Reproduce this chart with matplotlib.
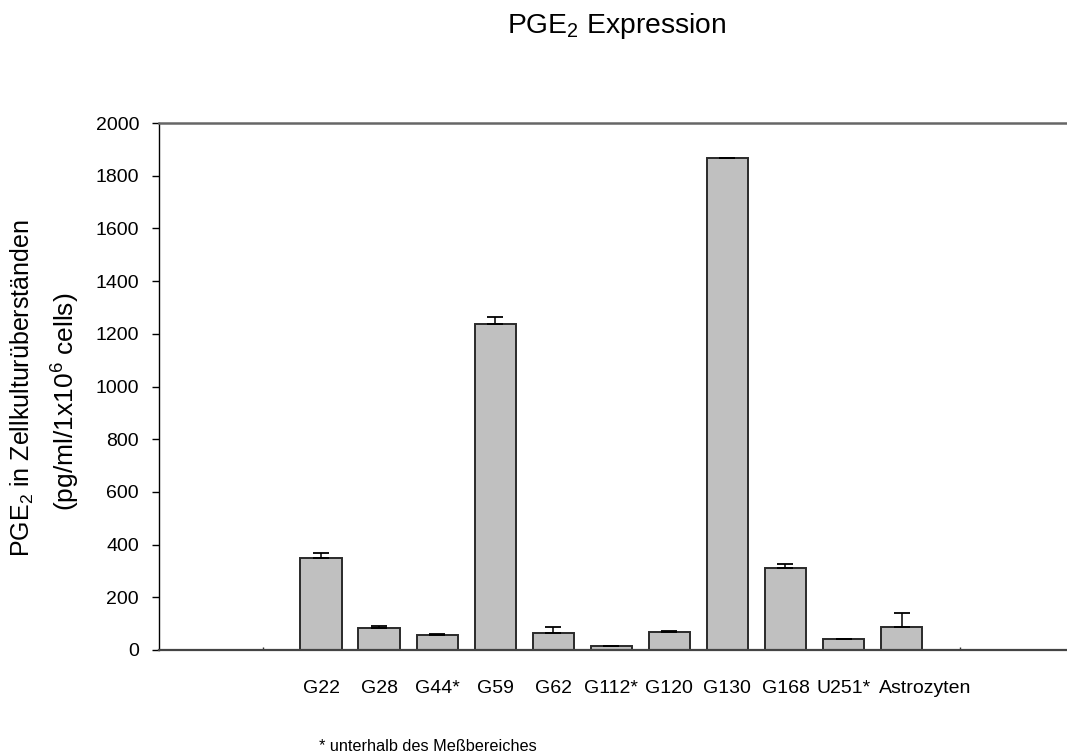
import matplotlib
matplotlib.use("Agg")
import matplotlib.pyplot as plt
import matplotlib.transforms as mtransforms
import numpy as np

plt.rcParams['font.family'] = ['Liberation Sans', 'DejaVu Sans']
plt.rcParams['mathtext.default'] = 'regular'

# ---- data ----
categories = ["G22", "G28", "G44*", "G59", "G62", "G112*", "G120", "G130", "G168", "U251*", "Astrozyten"]
values = [348, 82, 58, 1239, 63, 14, 67, 1866, 310, 41, 86]
errors = [22, 8, 1, 24, 24, 1, 4, 3, 16, 1, 53]
y_ticks = [0, 200, 400, 600, 800, 1000, 1200, 1400, 1600, 1800, 2000]

W, H = 1067, 756
fig = plt.figure(figsize=(W / 100, H / 100), dpi=100)
left, bottom, top = 158.5 / W, 1 - 650 / H, 1 - 123 / H
ax = fig.add_axes([left, bottom, 1.0 - left, top - bottom])

x = np.arange(len(categories))
ax.bar(x, values, width=0.71, color='#c0c0c0', edgecolor='#2a2a2a', linewidth=1.4, zorder=2)
lower = np.zeros(len(errors))
ax.errorbar(x, values, yerr=[lower, errors], fmt='none', ecolor='black',
            elinewidth=1.1, capsize=5.8, capthick=1.3, zorder=3)

ax.set_xlim(-2.8, 12.85)
ax.set_ylim(0, 2000)
ax.set_yticks(y_ticks)
ax.set_yticklabels([str(t) for t in y_ticks], fontsize=14)
ax.tick_params(axis='y', direction='out', length=5, width=1, pad=9)

ax.set_xticks(np.arange(-1, len(categories) + 1))
ax.set_xticklabels([])
ax.tick_params(axis='x', direction='in', length=2.5, width=1, colors='#333333')

ax.spines['right'].set_visible(False)
ax.spines['top'].set_color('#666666')
ax.spines['top'].set_linewidth(1.8)
ax.spines['bottom'].set_color('#444444')
ax.spines['bottom'].set_linewidth(1.6)
ax.spines['left'].set_linewidth(1.0)

# category labels (Astrozyten nudged right as in the original)
nudge = {"Astrozyten": 24}
for xi, lab in zip(x, categories):
    tr = mtransforms.offset_copy(ax.get_xaxis_transform(), fig=fig,
                                 x=nudge.get(lab, 0), y=-43, units='dots')
    ax.text(xi, 0, lab, transform=tr, ha='center', va='baseline', fontsize=14)

# title
fig.text(617 / W, 1 - 33 / H, "PGE$_2$ Expression", ha='center', va='baseline', fontsize=20.3)

# y label (two lines)
fig.text(22 / W, 1 - 388 / H, "PGE$_2$ in Zellkulturüberständen", rotation=90,
         ha='center', va='center', fontsize=18)
fig.text(66 / W, 1 - 402 / H, "(pg/ml/1x10$^6$ cells)", rotation=90,
         ha='center', va='center', fontsize=19)

# footnote
fig.text(319 / W, 1 - 751 / H, "* unterhalb des Meßbereiches", ha='left', va='baseline', fontsize=11.7)

fig.savefig("out.png", dpi=100)
